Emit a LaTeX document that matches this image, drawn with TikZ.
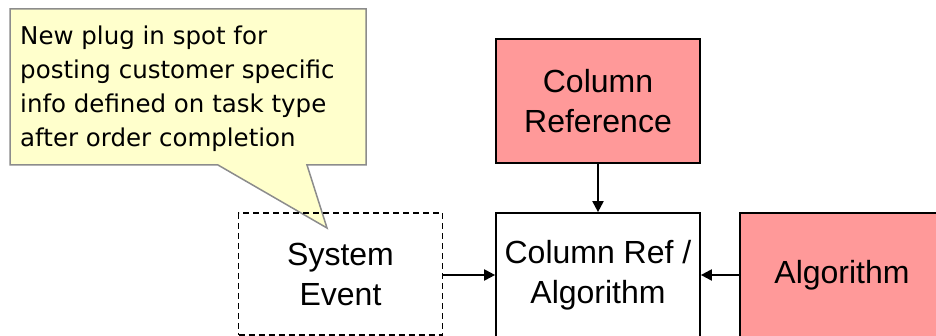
\documentclass[tikz,border=0pt]{standalone}
\usepackage{fontspec}
\setmainfont{Liberation Sans}
\newfontfamily\notefont{DejaVu Sans}
\usepackage{tikz}
\usetikzlibrary{arrows.meta,backgrounds,calc}
\definecolor{boxred}{HTML}{FF9999}
\definecolor{noteyellow}{HTML}{FFFFCC}
\definecolor{notegray}{HTML}{8C8C8C}

\begin{document}
\begin{tikzpicture}[x=1pt,y=1pt,
  blockbox/.style={draw=black,line width=1.7pt,minimum width=204pt,minimum height=124pt,
    align=center,inner sep=0pt,font=\fontsize{32}{40}\selectfont},
  redbox/.style={blockbox,fill=boxred},
  eventbox/.style={blockbox,dash pattern=on 6pt off 4pt},
  link/.style={line width=2pt,-{Triangle[length=11pt,width=11pt]}}]
\useasboundingbox (0,0) rectangle (936,336);
\clip (0,0) rectangle (936,336);
% callout
\draw[notegray,fill=noteyellow,line width=1.5pt]
  (10,327) -- (366,327) -- (366,171) -- (307,171) -- (327,108) -- (218,171) -- (10,171) -- cycle;
\node[anchor=north west,inner sep=0pt,align=left,font=\notefont\fontsize{24.5}{34}\selectfont] (note) at (20,310)
  {New plug in spot for\\posting customer specific\\info defined on task type\\after order completion};
% blocks
\node[redbox] (colref) at (598,235) {Column\\Reference};
\node[blockbox] (refalg) at (598,61) {Column Ref /\\Algorithm};
\node[eventbox,minimum height=122pt] (sysevent) at (340.5,62) {System\\Event};
\node[redbox] (algo) at (842,61) {Algorithm};
% arrows
\draw[link] (colref) -- (refalg);
\draw[link] (sysevent.east |- refalg) -- (refalg);
\draw[link] (algo) -- (refalg);
\end{tikzpicture}
\end{document}
